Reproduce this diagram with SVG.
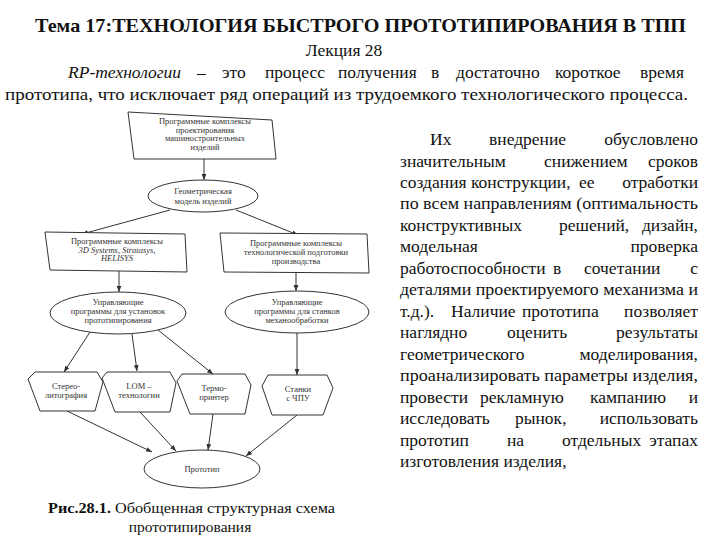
<svg xmlns="http://www.w3.org/2000/svg" width="720" height="540" viewBox="0 0 720 540">
<style>
text{font-family:"Liberation Serif","Times New Roman",Times,"DejaVu Serif",serif;fill:#111}
.title{font-size:19px;font-weight:bold}
.b{font-size:17.5px}
.cap{font-size:15.5px}
.d{font-size:8.5px;fill:#333;text-anchor:middle}
.sh{fill:#fff;stroke:#333;stroke-width:1}
.ln{stroke:#333;stroke-width:1;fill:none;marker-end:url(#ah)}
.e{text-anchor:end}
</style>
<defs>
<marker id="ah" viewBox="0 0 10 10" refX="10" refY="5" markerWidth="6" markerHeight="6" orient="auto" markerUnits="userSpaceOnUse">
<path d="M0,1 L10,5 L0,9 z" fill="#333"/>
</marker>
</defs>
<rect width="720" height="540" fill="#fff"/>

<g id="header">
<text class="title" x="35" y="32" textLength="651" lengthAdjust="spacingAndGlyphs">Тема 17:ТЕХНОЛОГИЯ БЫСТРОГО ПРОТОТИПИРОВАНИЯ В ТПП</text>
<text class="b" x="344" y="56" text-anchor="middle">Лекция 28</text>
<text class="b" x="68" y="78" font-style="italic">RP-технологии</text>
<text class="b" x="197" y="78">–</text>
<text class="b" x="222" y="78">это</text>
<text class="b" x="265" y="78">процесс</text>
<text class="b" x="338" y="78">получения</text>
<text class="b" x="431" y="78">в</text>
<text class="b" x="456" y="78">достаточно</text>
<text class="b" x="555" y="78">короткое</text>
<text class="b e" x="684" y="78">время</text>
<text class="b" x="5" y="100" textLength="683" lengthAdjust="spacingAndGlyphs">прототипа, что исключает ряд операций из трудоемкого технологического процесса.</text>
</g>

<g id="connectors">
<line class="ln" x1="204" y1="159" x2="204" y2="180"/>
<line class="ln" x1="170" y1="210" x2="82" y2="234"/>
<line class="ln" x1="236" y1="210" x2="298" y2="235"/>
<line class="ln" x1="119" y1="271" x2="119" y2="292"/>
<line class="ln" x1="296" y1="273" x2="296" y2="291"/>
<line class="ln" x1="90" y1="332" x2="64" y2="372"/>
<line class="ln" x1="132" y1="334" x2="137" y2="371"/>
<line class="ln" x1="158" y1="330" x2="213" y2="374"/>
<line class="ln" x1="297" y1="333" x2="297" y2="375"/>
<line class="ln" x1="67" y1="411" x2="152" y2="452"/>
<line class="ln" x1="140" y1="412" x2="176" y2="451"/>
<line class="ln" x1="213" y1="414" x2="208" y2="450"/>
<line class="ln" x1="297" y1="415" x2="246" y2="456"/>
</g>

<g id="n1">
<polygon class="sh" points="128,112 272,120 276,159 134,159"/>
<text class="d" x="205" y="124">Программные комплексы</text>
<text class="d" x="205" y="132.5">проектирования</text>
<text class="d" x="205" y="141">машиностроительных</text>
<text class="d" x="205" y="150">изделий</text>
</g>
<g id="n2">
<ellipse class="sh" cx="203" cy="196" rx="55" ry="16"/>
<text class="d" x="203" y="194">Геометрическая</text>
<text class="d" x="203" y="203.5">модель изделий</text>
</g>
<g id="n3">
<polygon class="sh" points="45,232 185,234 187,272 50,270"/>
<text class="d" x="117" y="244">Программные комплексы</text>
<text class="d" x="117" y="252.5" font-style="italic">3D Systems, Stratasys,</text>
<text class="d" x="117" y="261" font-style="italic">HELISYS</text>
</g>
<g id="n4">
<polygon class="sh" points="220,233 367,234 369,273 224,272"/>
<text class="d" x="296" y="246">Программные комплексы</text>
<text class="d" x="296" y="255">технологической подготовки</text>
<text class="d" x="296" y="264">производства</text>
</g>
<g id="n5">
<ellipse class="sh" cx="118" cy="313" rx="68" ry="21"/>
<text class="d" x="118" y="305">Управляющие</text>
<text class="d" x="118" y="314">программы для установок</text>
<text class="d" x="118" y="323">прототипирования</text>
</g>
<g id="n6">
<ellipse class="sh" cx="297" cy="312" rx="72" ry="21"/>
<text class="d" x="297" y="305">Управляющие</text>
<text class="d" x="297" y="314">программы для станков</text>
<text class="d" x="297" y="323">механообработки</text>
</g>
<g id="n7">
<polygon class="sh" points="35,372 97,372 103,382 95,411 40,411 28,379"/>
<text class="d" x="66" y="389">Стерео-</text>
<text class="d" x="66" y="398">литография</text>
</g>
<g id="n8">
<polygon class="sh" points="107,372 170,372 176,383 170,412 115,412 102,378"/>
<text class="d" x="139" y="389">LOM –</text>
<text class="d" x="139" y="398">технологии</text>
</g>
<g id="n9">
<polygon class="sh" points="182,374 245,374 251,385 245,414 190,414 177,381"/>
<text class="d" x="214" y="391">Термо-</text>
<text class="d" x="214" y="400">принтер</text>
</g>
<g id="n10">
<polygon class="sh" points="268,375 327,375 333,388 323,415 272,415 262,386"/>
<text class="d" x="298" y="392">Станки</text>
<text class="d" x="298" y="401">с ЧПУ</text>
</g>
<g id="n11">
<ellipse class="sh" cx="202" cy="469" rx="58" ry="19"/>
<text class="d" x="202" y="472">Прототип</text>
</g>

<g id="caption">
<text class="cap" x="48" y="513" textLength="287" lengthAdjust="spacingAndGlyphs"><tspan font-weight="bold">Рис.28.1.</tspan> Обобщенная структурная схема</text>
<text class="cap" x="190" y="532" text-anchor="middle">прототипирования</text>
</g>

<g id="para">
<text class="b" x="430" y="145">Их</text><text class="b" x="489" y="145">внедрение</text><text class="b e" x="698" y="145">обусловлено</text>
<text class="b" x="400" y="166.5">значительным</text><text class="b" x="544" y="166.5">снижением</text><text class="b e" x="698" y="166.5">сроков</text>
<text class="b" x="400" y="188">создания</text><text class="b" x="471" y="188">конструкции,</text><text class="b" x="579" y="188">ее</text><text class="b e" x="698" y="188">отработки</text>
<text class="b" x="400" y="209.4" textLength="298" lengthAdjust="spacingAndGlyphs">по всем направлениям (оптимальность</text>
<text class="b" x="400" y="231">конструктивных</text><text class="b" x="559" y="231">решений,</text><text class="b e" x="698" y="231">дизайн,</text>
<text class="b" x="400" y="252.4">модельная</text><text class="b e" x="698" y="252.4">проверка</text>
<text class="b" x="400" y="273.8">работоспособности</text><text class="b" x="553" y="273.8">в</text><text class="b" x="584" y="273.8">сочетании</text><text class="b e" x="698" y="273.8">с</text>
<text class="b" x="400" y="295.3" textLength="298" lengthAdjust="spacingAndGlyphs">деталями проектируемого механизма и</text>
<text class="b" x="400" y="316.8">т.д.).</text><text class="b" x="451" y="316.8">Наличие</text><text class="b" x="522" y="316.8">прототипа</text><text class="b e" x="698" y="316.8">позволяет</text>
<text class="b" x="400" y="338.2">наглядно</text><text class="b" x="507" y="338.2">оценить</text><text class="b e" x="698" y="338.2">результаты</text>
<text class="b" x="400" y="359.7">геометрического</text><text class="b e" x="698" y="359.7">моделирования,</text>
<text class="b" x="400" y="381.2" textLength="298" lengthAdjust="spacingAndGlyphs">проанализировать параметры изделия,</text>
<text class="b" x="400" y="402.6">провести</text><text class="b" x="480" y="402.6">рекламную</text><text class="b" x="590" y="402.6">кампанию</text><text class="b e" x="698" y="402.6">и</text>
<text class="b" x="400" y="424.1">исследовать</text><text class="b" x="515" y="424.1">рынок,</text><text class="b e" x="698" y="424.1">использовать</text>
<text class="b" x="400" y="445.6">прототип</text><text class="b" x="507" y="445.6">на</text><text class="b" x="562" y="445.6">отдельных</text><text class="b e" x="698" y="445.6">этапах</text>
<text class="b" x="400" y="467">изготовления изделия,</text>
</g>
</svg>
